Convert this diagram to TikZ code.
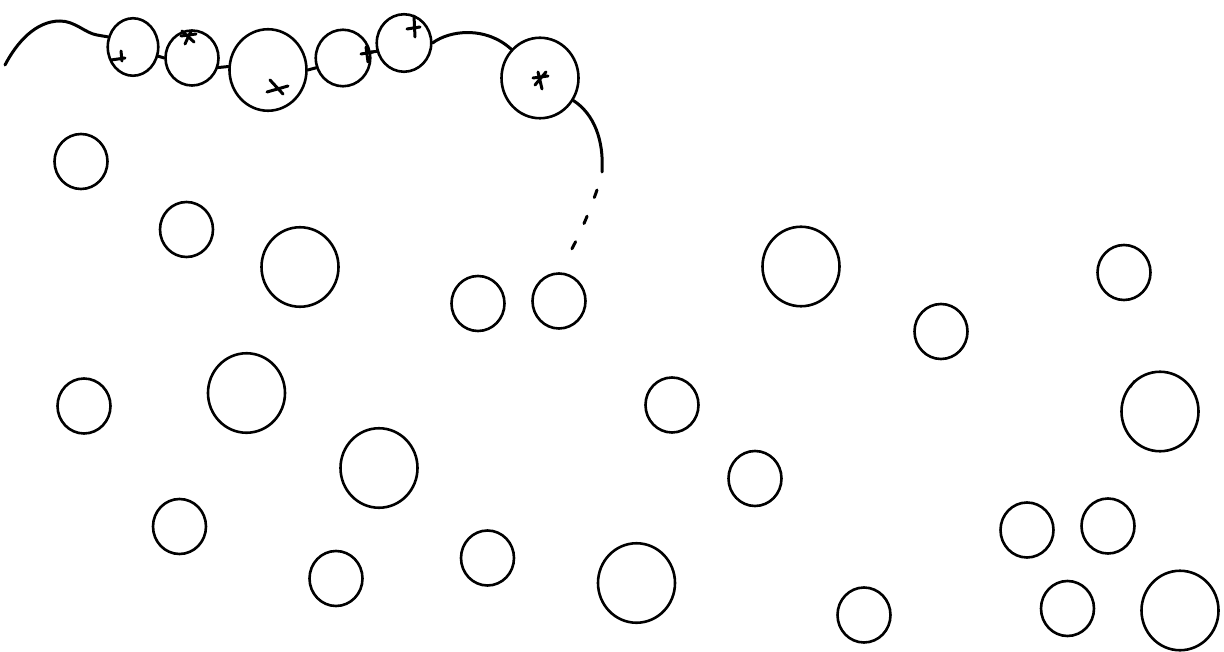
\documentclass[tikz,border=0pt]{standalone}
\usetikzlibrary{shapes.geometric}

\begin{document}
\begin{tikzpicture}[
  x=1pt,y=-1pt,
  ring/.style={ellipse,draw,line width=2.6pt,inner sep=0pt,minimum width=53pt,minimum height=55pt},
  bigring/.style={ring,minimum width=77pt,minimum height=79.5pt},
  link/.style={line width=3pt,line cap=round},
  tick/.style={line width=3pt,line cap=round}
]
\useasboundingbox (0,0) rectangle (1224,652);

% the chain
\node[ring,minimum width=50.5pt,minimum height=57.5pt] (c1) at (133,47) {};
\node[ring] (c2) at (192,58) {};
\node[bigring,minimum height=81.5pt] (c3) at (268,70) {};
\node[ring,minimum width=54.5pt,minimum height=56.5pt] (c4) at (343,58) {};
\node[ring,minimum width=54.5pt,minimum height=57.5pt] (c5) at (404,43) {};
\node[bigring,minimum height=80.5pt] (c6) at (540,78) {};

\coordinate (lead) at (5,65);
\coordinate (tailend) at (602,172);

\draw[link] (lead) .. controls (17,42) and (36,21) .. (60,21)
  .. controls (75,21) and (85,33) .. (97,35) -- (c1.158);
\draw[link] (c1.-20) -- (c2.west);
\draw[link] (c2.-20) -- (c3.175);
\draw[link] (c3.east) -- (c4.200);
\draw[link] (c4.12) -- (c5.197);
\draw[link] (c5.east) .. controls (450,30) and (486,26) .. (c6.135);
\draw[link] (c6.-34) .. controls (594,114) and (604,140) .. (tailend);
\draw[link,dash pattern=on 8pt off 20pt] (597,190) .. controls (590,210) and (580,235) .. (569,254);

% marks on the chain
\draw[tick] (121,51) -- (122,61) (111,60) -- (125,58);
\draw[tick] (181,36) -- (196,34) (185,44) -- (191,31) (182,31) -- (194,42);
\draw[tick] (270,80) -- (283,94) (267,92) -- (288,86);
\draw[tick] (361,54) -- (373,52) (366,47) -- (368,62);
\draw[tick] (414,16) -- (415,37) (407,29) -- (420,27);
\draw[tick] (533,78) -- (548,76) (538,72) -- (542,89) (535,85) -- (546,72);

% free rings
\node[ring] (b1) at (81,161.5) {};
\node[ring] (b2) at (186.5,229.5) {};
\node[bigring] (b3) at (300,267) {};
\node[ring] (b4) at (478,303.5) {};
\node[ring] (b5) at (559,301) {};
\node[bigring] (b6) at (801,266.5) {};
\node[ring] (b7) at (1124,272.5) {};
\node[ring] (b8) at (941,331.5) {};
\node[ring] (b9) at (84,406) {};
\node[bigring] (b10) at (246.5,393) {};
\node[ring] (b11) at (672,405) {};
\node[bigring] (b12) at (1160,411.5) {};
\node[bigring] (b13) at (379,468) {};
\node[ring] (b14) at (755,478.5) {};
\node[ring] (b15) at (179.5,526.5) {};
\node[ring] (b16) at (1027,530) {};
\node[ring] (b17) at (1108,526) {};
\node[ring] (b18) at (336,578.5) {};
\node[ring] (b19) at (487.5,558) {};
\node[bigring] (b20) at (636.5,583) {};
\node[ring] (b21) at (864,615) {};
\node[ring] (b22) at (1067.5,608.5) {};
\node[bigring] (b23) at (1180,610.5) {};

\draw[line width=1.6pt,line cap=round] (1131,387) -- (1134,381);
\end{tikzpicture}
\end{document}
